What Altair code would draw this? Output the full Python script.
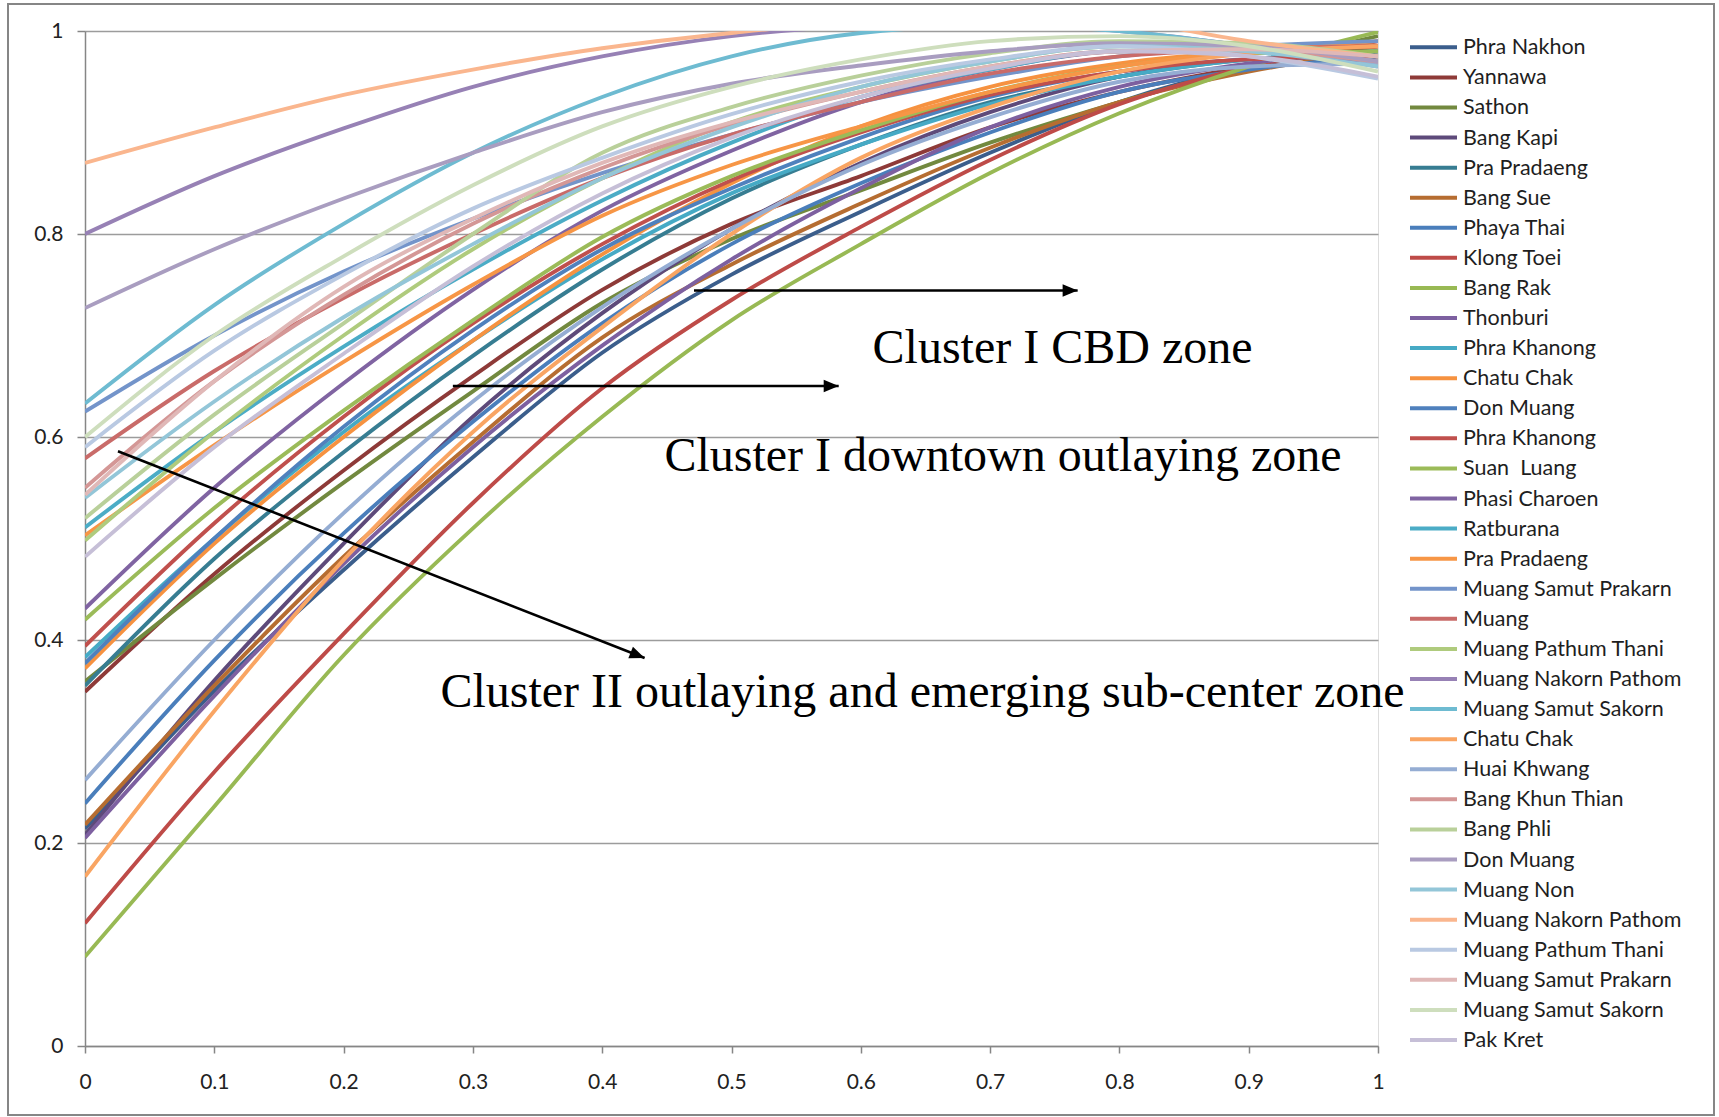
import altair as alt
import pandas as pd

x_points = [0.0, 0.1, 0.2, 0.3, 0.4, 0.5, 0.6, 0.7, 0.8, 0.9, 1.0]

names = [
    "Phra Nakhon", "Yannawa", "Sathon", "Bang Kapi", "Pra Pradaeng", "Bang Sue",
    "Phaya Thai", "Klong Toei", "Bang Rak", "Thonburi", "Phra Khanong", "Chatu Chak",
    "Don Muang", "Phra Khanong", "Suan\u00a0 Luang", "Phasi Charoen", "Ratburana", "Pra Pradaeng",
    "Muang Samut Prakarn", "Muang", "Muang Pathum Thani", "Muang Nakorn Pathom",
    "Muang Samut Sakorn", "Chatu Chak", "Huai Khwang", "Bang Khun Thian", "Bang Phli",
    "Don Muang", "Muang Non", "Muang Nakorn Pathom", "Muang Pathum Thani",
    "Muang Samut Prakarn", "Muang Samut Sakorn", "Pak Kret",
]

colors = [
    "#3B5E8C", "#8E3A38", "#72893F", "#5E4A7A", "#377D92", "#B66D31",
    "#4A7EBB", "#BE4B48", "#98B954", "#7D60A0", "#46AAC5", "#F69240",
    "#4F81BD", "#C0504D", "#9BBB59", "#8064A2", "#4BACC6", "#F79646",
    "#7394CA", "#C96B69", "#AFCB7D", "#9781B5", "#6EBBD1", "#F9A563",
    "#95ADD3", "#D49796", "#B9D09A", "#A99DC0", "#93C6D8", "#FAB68E",
    "#B9C9E2", "#E0B8B7", "#CEDEBD", "#C6BFD7",
]

curves = [
    [0.214, 0.350, 0.469, 0.580, 0.683, 0.760, 0.822, 0.880, 0.930, 0.965, 0.985],
    [0.349, 0.465, 0.567, 0.660, 0.745, 0.810, 0.857, 0.905, 0.940, 0.965, 0.985],
    [0.359, 0.460, 0.555, 0.645, 0.732, 0.795, 0.843, 0.890, 0.930, 0.965, 0.995],
    [0.208, 0.360, 0.495, 0.620, 0.722, 0.805, 0.870, 0.920, 0.955, 0.972, 0.975],
    [0.355, 0.480, 0.585, 0.680, 0.765, 0.835, 0.888, 0.930, 0.955, 0.972, 0.980],
    [0.218, 0.355, 0.482, 0.595, 0.698, 0.770, 0.830, 0.885, 0.930, 0.960, 0.980],
    [0.239, 0.380, 0.505, 0.615, 0.712, 0.790, 0.850, 0.900, 0.940, 0.962, 0.975],
    [0.121, 0.270, 0.406, 0.535, 0.648, 0.735, 0.807, 0.873, 0.928, 0.965, 0.990],
    [0.088, 0.236, 0.385, 0.510, 0.620, 0.715, 0.790, 0.860, 0.919, 0.965, 0.999],
    [0.205, 0.345, 0.475, 0.590, 0.690, 0.775, 0.845, 0.905, 0.945, 0.968, 0.980],
    [0.383, 0.500, 0.605, 0.695, 0.775, 0.840, 0.888, 0.928, 0.955, 0.972, 0.980],
    [0.372, 0.495, 0.600, 0.695, 0.780, 0.850, 0.906, 0.945, 0.968, 0.980, 0.985],
    [0.377, 0.500, 0.610, 0.705, 0.785, 0.845, 0.895, 0.935, 0.960, 0.972, 0.975],
    [0.394, 0.515, 0.620, 0.712, 0.790, 0.853, 0.900, 0.937, 0.960, 0.972, 0.975],
    [0.420, 0.530, 0.626, 0.715, 0.797, 0.857, 0.902, 0.940, 0.965, 0.978, 0.980],
    [0.431, 0.550, 0.653, 0.745, 0.823, 0.882, 0.930, 0.962, 0.980, 0.982, 0.975],
    [0.511, 0.605, 0.689, 0.765, 0.833, 0.890, 0.935, 0.962, 0.980, 0.980, 0.970],
    [0.503, 0.592, 0.674, 0.750, 0.818, 0.868, 0.906, 0.940, 0.965, 0.980, 0.990],
    [0.625, 0.700, 0.763, 0.815, 0.860, 0.898, 0.930, 0.955, 0.975, 0.985, 0.990],
    [0.579, 0.665, 0.737, 0.800, 0.855, 0.898, 0.930, 0.958, 0.975, 0.982, 0.985],
    [0.498, 0.605, 0.700, 0.785, 0.855, 0.910, 0.945, 0.970, 0.985, 0.985, 0.975],
    [0.800, 0.857, 0.904, 0.945, 0.975, 0.995, 1.005, 1.008, 1.000, 0.985, 0.965],
    [0.633, 0.730, 0.810, 0.880, 0.935, 0.975, 0.998, 1.005, 1.000, 0.985, 0.970],
    [0.167, 0.330, 0.479, 0.605, 0.708, 0.800, 0.875, 0.925, 0.960, 0.978, 0.985],
    [0.262, 0.400, 0.525, 0.635, 0.728, 0.805, 0.868, 0.915, 0.950, 0.965, 0.968],
    [0.550, 0.655, 0.740, 0.810, 0.865, 0.908, 0.940, 0.965, 0.980, 0.980, 0.970],
    [0.520, 0.622, 0.712, 0.800, 0.880, 0.925, 0.956, 0.978, 0.990, 0.988, 0.975],
    [0.727, 0.785, 0.835, 0.880, 0.920, 0.948, 0.966, 0.980, 0.988, 0.985, 0.970],
    [0.540, 0.635, 0.718, 0.790, 0.855, 0.905, 0.945, 0.970, 0.985, 0.980, 0.965],
    [0.870, 0.905, 0.937, 0.962, 0.983, 0.998, 1.010, 1.015, 1.010, 0.990, 0.975],
    [0.590, 0.685, 0.760, 0.825, 0.875, 0.918, 0.950, 0.972, 0.985, 0.975, 0.953],
    [0.543, 0.655, 0.748, 0.815, 0.870, 0.910, 0.940, 0.965, 0.980, 0.982, 0.975],
    [0.600, 0.700, 0.778, 0.848, 0.906, 0.945, 0.972, 0.990, 0.995, 0.985, 0.960],
    [0.482, 0.590, 0.682, 0.768, 0.840, 0.895, 0.935, 0.963, 0.980, 0.975, 0.955],
]

y_ticks = [0.0, 0.2, 0.4, 0.6, 0.8, 1.0]

note_texts = [
    "Cluster I CBD zone",
    "Cluster I downtown outlaying zone",
    "Cluster II outlaying and emerging sub-center zone",
]
note_x = [0.756, 0.710, 0.6477]
note_y = [0.6725, 0.5667, 0.3337]

arrow_x1 = [0.471, 0.2845, 0.0255]
arrow_y1 = [0.7443, 0.6502, 0.586]
arrow_x2 = [0.7677, 0.5829, 0.4328]
arrow_y2 = [0.7443, 0.6502, 0.3823]
arrow_angle = [0.0, 0.0, 21.4]

# ---------------------------------------------------------------------------
ids = [f"{i + 1:02d}" for i in range(len(names))]
rows = []
for sid, vals in zip(ids, curves):
    for xv, yv in zip(x_points, vals):
        rows.append({"sid": sid, "x": xv, "y": yv})
df = pd.DataFrame(rows)
legend_df = pd.DataFrame({"sid": ids, "name": names})

PLOT_W, PLOT_H = 1293, 1015
GRID = "#9C9C9C"
AXIS = "#868686"
LABEL_FONT = "Lato"

x_scale = alt.Scale(domain=[0, 1], nice=False, zero=False)
y_scale = alt.Scale(domain=[0, 1], nice=False, zero=False)
color_scale = alt.Scale(domain=ids, range=colors)

lines = alt.Chart(df).mark_line(strokeWidth=3.9, interpolate="monotone", clip=True).encode(
    x=alt.X("x:Q", scale=x_scale, axis=alt.Axis(
        values=x_points, format="~g", title=None, grid=False,
        domainColor=AXIS, domainWidth=1.5, tickColor=AXIS, tickWidth=1.5, tickSize=7,
        labelFont=LABEL_FONT, labelFontSize=21, labelColor="#222222", labelPadding=18,
        labelFlush=False, labelOverlap=False)),
    y=alt.Y("y:Q", scale=y_scale, axis=alt.Axis(
        values=y_ticks, format="~g", title=None, grid=True, gridColor=GRID, gridWidth=1.4,
        domainColor=AXIS, domainWidth=1.5, tickColor=AXIS, tickWidth=1.5, tickSize=8,
        labelFont=LABEL_FONT, labelFontSize=21, labelColor="#222222", labelPadding=14,
        labelFlush=False, labelOverlap=False)),
    color=alt.Color("sid:N", scale=color_scale, legend=None),
    detail="sid:N",
)

# legend drawn as its own column of entries (one row per series)
legend_y = alt.Y("sid:O", scale=alt.Scale(type="point", domain=ids, range=[16.3, 1009.0],
                                          padding=0),
                 axis=None)
legend_lines = alt.Chart(legend_df).mark_rule(strokeWidth=4).encode(
    x=alt.value(1325), x2=alt.value(1372), y=legend_y,
    color=alt.Color("sid:N", scale=color_scale, legend=None))
legend_text = alt.Chart(legend_df).mark_text(
    font=LABEL_FONT, fontSize=21.5, color="#1E1E1E", align="left", baseline="middle",
    dy=1).encode(x=alt.value(1378), y=legend_y, text="name:N")
legend_layer = alt.layer(legend_lines, legend_text)

frame_df = pd.DataFrame({"k": [0]})
frame = alt.Chart(frame_df).mark_rect(fillOpacity=0, stroke=AXIS, strokeWidth=2).encode(
    x=alt.value(-77), x2=alt.value(1629), y=alt.value(-27), y2=alt.value(1084))

arrows_df = pd.DataFrame({"x1": arrow_x1, "y1": arrow_y1, "x2": arrow_x2, "y2": arrow_y2,
                          "ang": arrow_angle})
arrow_lines = alt.Chart(arrows_df).mark_rule(color="black", strokeWidth=2.6).encode(
    x=alt.X("x1:Q", scale=x_scale), y=alt.Y("y1:Q", scale=y_scale),
    x2="x2:Q", y2="y2:Q")
arrow_heads = alt.Chart(arrows_df).mark_point(
    shape="M-1,-0.42L0,0L-1,0.42Z", filled=True, color="black", opacity=1, size=900).encode(
    x=alt.X("x2:Q", scale=x_scale), y=alt.Y("y2:Q", scale=y_scale),
    angle=alt.Angle("ang:Q", scale=None))

notes_df = pd.DataFrame({"t": note_texts, "x": note_x, "y": note_y})
notes = alt.Chart(notes_df).mark_text(
    font="Liberation Serif", fontSize=48, color="black", align="center",
    baseline="alphabetic").encode(
    x=alt.X("x:Q", scale=x_scale), y=alt.Y("y:Q", scale=y_scale), text="t:N")

main = alt.layer(frame, lines, arrow_lines, arrow_heads, notes)

chart = alt.layer(main, legend_layer).resolve_scale(y="independent").properties(
    width=PLOT_W, height=PLOT_H,
    autosize=alt.AutoSizeParams(type="none"),
    padding={"left": 85, "top": 31, "right": 341, "bottom": 71},
).configure_view(stroke=None).configure(background="white")

chart.save("out.html", embed_options={"renderer": "svg", "actions": False})
